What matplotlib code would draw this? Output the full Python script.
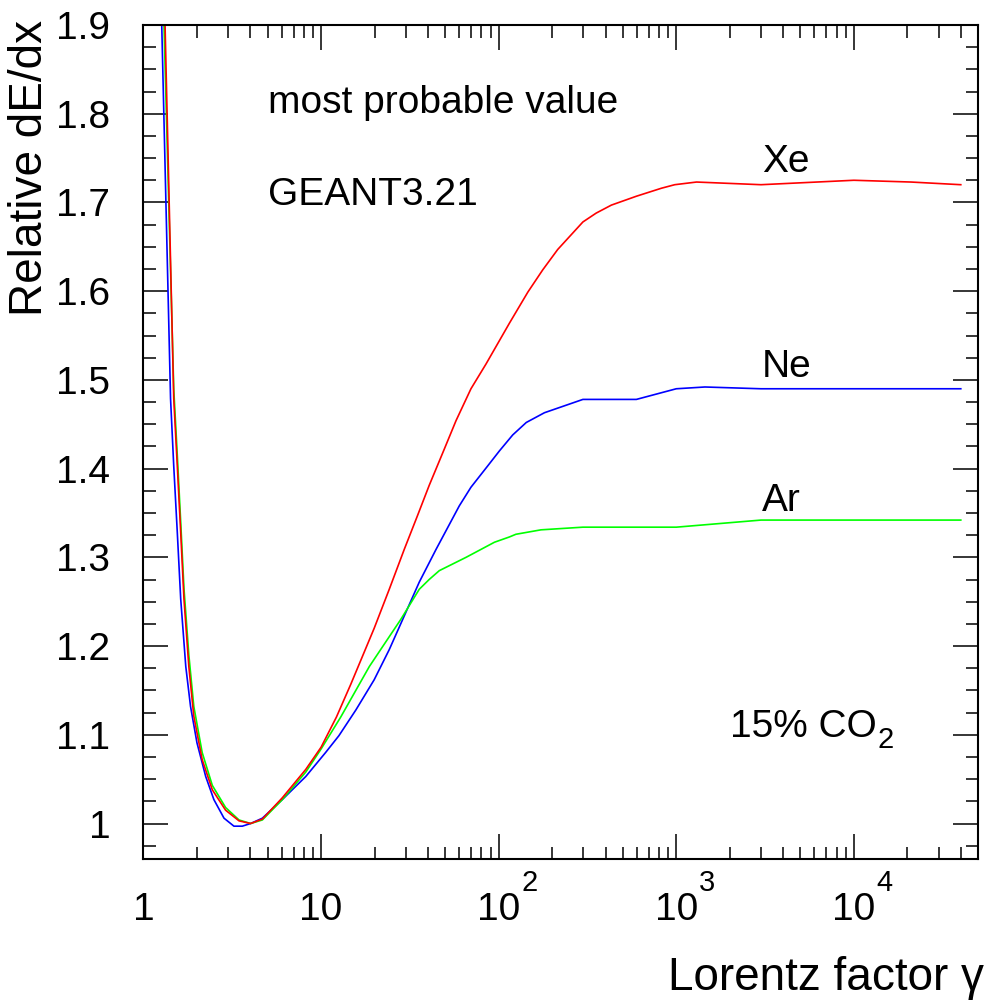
import numpy as np
import matplotlib
matplotlib.use("Agg")
import matplotlib.pyplot as plt
from matplotlib.ticker import FixedLocator, FixedFormatter, LogLocator, MultipleLocator, NullFormatter

plt.rcParams['font.family'] = ['Liberation Sans', 'DejaVu Sans']
plt.rcParams['mathtext.fontset'] = 'custom'
plt.rcParams['mathtext.rm'] = 'Liberation Sans'
plt.rcParams['mathtext.it'] = 'Liberation Sans:italic'
plt.rcParams['mathtext.bf'] = 'Liberation Sans:bold'

# ---------------- data ----------------
xe_gamma = [1.26, 1.48, 1.55, 1.62, 1.69, 1.80, 1.92, 2.14, 2.44, 2.90, 3.45, 4.01, 4.67,
            6.05, 8.20, 10.0, 12.2, 14.7, 19.9, 24.2, 29.4, 34.9, 40.6, 49.4, 57.5, 69.8,
            84.9, 115, 146, 177, 215, 298, 354, 431, 596, 824, 980, 1300, 3000, 10000,
            21000, 40000]
xe_val = [2.08, 1.479, 1.403, 1.328, 1.253, 1.177, 1.121, 1.072, 1.038, 1.015, 1.003, 1.000,
          1.005, 1.029, 1.061, 1.086, 1.120, 1.157, 1.220, 1.264, 1.309, 1.347, 1.381,
          1.422, 1.454, 1.490, 1.518, 1.564, 1.599, 1.624, 1.647, 1.678, 1.688, 1.697,
          1.707, 1.716, 1.720, 1.723, 1.720, 1.725, 1.723, 1.720]

ne_gamma = [1.20, 1.42, 1.48, 1.55, 1.62, 1.73, 1.84, 2.00, 2.24, 2.49, 2.84, 3.23, 3.60,
            4.01, 4.67, 6.05, 8.20, 10.6, 12.6, 15.7, 19.9, 24.2, 28.8, 35.7, 44.4, 60.0,
            69.8, 86.7, 101, 120, 143, 181, 298, 596, 1000, 1450, 3000, 40000]
ne_val = [2.10, 1.479, 1.403, 1.328, 1.253, 1.177, 1.132, 1.091, 1.053, 1.027, 1.006, 0.997,
          0.997, 1.000, 1.006, 1.027, 1.053, 1.080, 1.099, 1.128, 1.162, 1.196, 1.230,
          1.272, 1.309, 1.358, 1.379, 1.403, 1.420, 1.438, 1.452, 1.463, 1.478, 1.478,
          1.490, 1.492, 1.490, 1.490]

ar_gamma = [1.23, 1.48, 1.55, 1.62, 1.69, 1.80, 1.92, 2.14, 2.44, 2.90, 3.45, 4.01, 4.67,
            6.05, 8.20, 10.0, 12.9, 18.7, 28.1, 35.7, 40.6, 46.3, 65.5, 94.6, 115, 125,
            173, 298, 1000, 3000, 40000]
ar_val = [2.09, 1.490, 1.415, 1.340, 1.265, 1.190, 1.132, 1.080, 1.043, 1.018, 1.004, 1.000,
          1.004, 1.027, 1.058, 1.084, 1.120, 1.177, 1.230, 1.264, 1.275, 1.285, 1.300,
          1.317, 1.323, 1.326, 1.331, 1.334, 1.334, 1.342, 1.342]

x_major = [1, 10, 100, 1000, 10000]
x_labels = ['1', '10', '10', '10', '10']
x_exponents = ['', '', '2', '3', '4']
y_major = [1.0, 1.1, 1.2, 1.3, 1.4, 1.5, 1.6, 1.7, 1.8, 1.9]
y_labels = ['1', '1.1', '1.2', '1.3', '1.4', '1.5', '1.6', '1.7', '1.8', '1.9']

# ---------------- figure ----------------
W, H = 987, 1002
fig = plt.figure(figsize=(W / 100, H / 100), dpi=100)

def fx(px):
    return px / W

def fy(py):
    return 1 - py / H

L, R, T, B = 143.5, 978, 25, 859
ax = fig.add_axes([fx(L), fy(B), fx(R) - fx(L), fy(T) - fy(B)])

ax.plot(ne_gamma, ne_val, color='#0000ff', lw=1.2)
ax.plot(ar_gamma, ar_val, color='#00ff00', lw=1.2)
ax.plot(xe_gamma, xe_val, color='#ff0000', lw=1.2)

ax.set_xscale('log')
ax.set_xlim(1, 5e4)
ax.set_ylim(0.96, 1.9)

ax.xaxis.set_major_locator(FixedLocator(x_major))
ax.xaxis.set_major_formatter(FixedFormatter(x_labels))
ax.xaxis.set_minor_locator(LogLocator(base=10, subs=np.arange(2, 10), numticks=20))
ax.xaxis.set_minor_formatter(NullFormatter())
ax.yaxis.set_major_locator(FixedLocator(y_major))
ax.yaxis.set_major_formatter(FixedFormatter(y_labels))
ax.yaxis.set_minor_locator(MultipleLocator(0.025))

for s in ax.spines.values():
    s.set_linewidth(1.5)

ax.tick_params(which='both', direction='in', top=True, right=True, width=1.1, color='black')
ax.tick_params(which='major', length=18)
ax.tick_params(which='minor', length=9)
ax.tick_params(axis='x', which='major', labelsize=28, pad=44)
ax.tick_params(axis='y', which='major', labelsize=28, pad=24)
for lab in ax.get_xticklabels():
    lab.set_va('baseline')

# exponents of the decade labels, placed like ROOT superscripts
for xv, ex in zip(x_major, x_exponents):
    if not ex:
        continue
    xd, _ = ax.transData.transform((xv, 1.0))
    fig.text(fx(xd + 22.5), fy(891), ex, ha='left', va='baseline', fontsize=21)

# axis titles
fig.text(fx(30), fy(20), 'Relative dE/dx', rotation=90, ha='center', va='top', fontsize=33)
fig.text(fx(984), fy(990), 'Lorentz factor γ', ha='right', va='baseline', fontsize=33)

# annotations
fig.text(fx(268), fy(113), 'most probable value', ha='left', va='baseline', fontsize=28)
fig.text(fx(268), fy(205), 'GEANT3.21', ha='left', va='baseline', fontsize=28)
fig.text(fx(762), fy(172), 'Xe', ha='left', va='baseline', fontsize=28)
fig.text(fx(762), fy(377), 'Ne', ha='left', va='baseline', fontsize=28)
fig.text(fx(762), fy(511), 'Ar', ha='left', va='baseline', fontsize=28)
t_co = fig.text(fx(730), fy(737), '15% CO', ha='left', va='baseline', fontsize=28)
fig.canvas.draw()
bb = t_co.get_window_extent()
fig.text((bb.x1 + 1) / W, fy(748), '2', ha='left', va='baseline', fontsize=21)

fig.savefig('out.png', dpi=100)
